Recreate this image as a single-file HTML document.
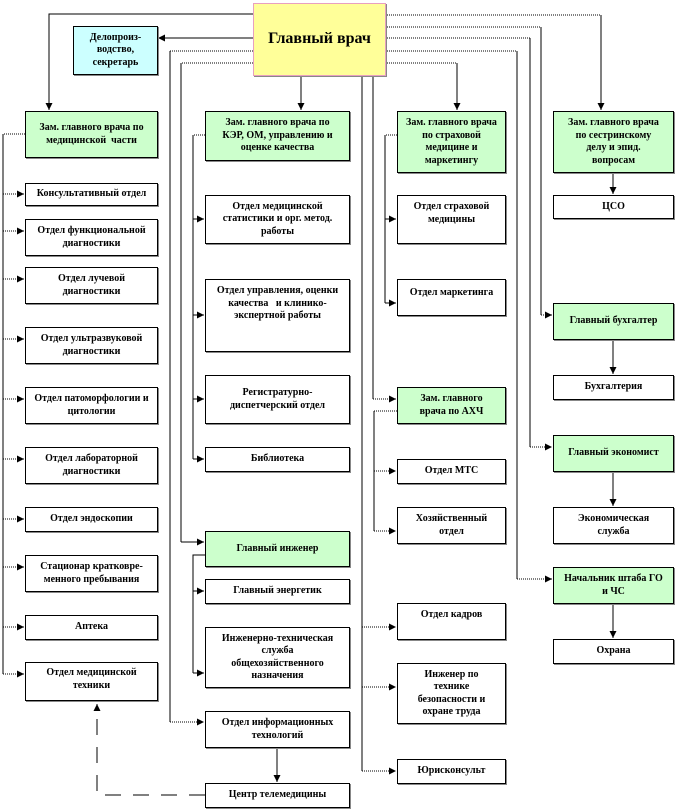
<!DOCTYPE html>
<html><head><meta charset="utf-8"><style>
body{margin:0;width:676px;height:810px;background:#fff;position:relative;overflow:hidden;font-family:"Liberation Serif",serif;}
.b{position:absolute;box-sizing:border-box;border:1px solid #000;background:#fff;display:flex;align-items:center;justify-content:center;text-align:center;font-weight:bold;font-size:10px;line-height:12.5px;color:#000;box-shadow:1px 1px 0 #888;padding:0 8px;font-family:"Liberation Serif",serif;}
.g{background:#ccffcc;}
svg{position:absolute;left:0;top:0;}
</style></head><body>
<svg width="676" height="810">
<defs><marker id="a" markerWidth="8" markerHeight="8" refX="7" refY="4" orient="auto" markerUnits="userSpaceOnUse"><path d="M0,0.5 L7,4 L0,7.5 Z" fill="#000"/></marker></defs>
<g stroke="#000" stroke-width="1" fill="none">
<polyline points="253,14 49,14 49,110" marker-end="url(#a)"/>
<line x1="253" y1="38" x2="158" y2="38" marker-end="url(#a)"/>
<polyline points="253,51 170,51" stroke-dasharray="1,1"/>
<polyline points="253,63 181,63" stroke-dasharray="1,1"/>
<line x1="170" y1="51" x2="170" y2="722"/>
<line x1="181" y1="63" x2="181" y2="542"/>
<line x1="181" y1="542" x2="204" y2="542" marker-end="url(#a)"/>
<line x1="170" y1="722" x2="204" y2="722" stroke-dasharray="1,1" marker-end="url(#a)"/>
<line x1="301" y1="75" x2="301" y2="110" marker-end="url(#a)"/>
<polyline points="385,15 601,15" stroke-dasharray="1,1"/><line x1="601" y1="15" x2="601" y2="110" marker-end="url(#a)"/>
<polyline points="385,27 541,27" stroke-dasharray="1,1"/><line x1="541" y1="27" x2="541" y2="315"/>
<polyline points="385,38 530,38" stroke-dasharray="1,1"/><line x1="530" y1="38" x2="530" y2="447"/>
<polyline points="385,51 517,51" stroke-dasharray="1,1"/><line x1="517" y1="51" x2="517" y2="579"/>
<polyline points="385,63 457,63" stroke-dasharray="1,1"/><line x1="457" y1="63" x2="457" y2="110" marker-end="url(#a)"/>
<line x1="541" y1="315" x2="552" y2="315" stroke-dasharray="1,1" marker-end="url(#a)"/>
<line x1="530" y1="447" x2="552" y2="447" stroke-dasharray="1,1" marker-end="url(#a)"/>
<line x1="517" y1="579" x2="552" y2="579" stroke-dasharray="1,1" marker-end="url(#a)"/>
<line x1="613" y1="172" x2="613" y2="194" marker-end="url(#a)"/>
<line x1="613" y1="339" x2="613" y2="374" marker-end="url(#a)"/>
<line x1="613" y1="471" x2="613" y2="506" marker-end="url(#a)"/>
<line x1="613" y1="603" x2="613" y2="638" marker-end="url(#a)"/>
<line x1="362" y1="75" x2="362" y2="771"/>
<line x1="373" y1="75" x2="373" y2="399"/>
<line x1="373" y1="399" x2="396" y2="399" stroke-dasharray="1,1" marker-end="url(#a)"/>
<line x1="362" y1="627" x2="396" y2="627" stroke-dasharray="1,1" marker-end="url(#a)"/>
<line x1="362" y1="687" x2="396" y2="687" stroke-dasharray="1,1" marker-end="url(#a)"/>
<line x1="362" y1="771" x2="396" y2="771" stroke-dasharray="1,1" marker-end="url(#a)"/>
<line x1="397" y1="411" x2="374" y2="411" stroke-dasharray="1,1"/>
<line x1="374" y1="411" x2="374" y2="531"/>
<line x1="374" y1="471" x2="396" y2="471" stroke-dasharray="1,1" marker-end="url(#a)"/>
<line x1="374" y1="531" x2="396" y2="531" stroke-dasharray="1,1" marker-end="url(#a)"/>
<line x1="397" y1="135" x2="385" y2="135" stroke-dasharray="1,1"/>
<line x1="385" y1="135" x2="385" y2="303"/>
<line x1="385" y1="219" x2="396" y2="219" marker-end="url(#a)"/>
<line x1="385" y1="303" x2="396" y2="303" marker-end="url(#a)"/>
<line x1="205" y1="135" x2="193" y2="135" stroke-dasharray="1,1"/>
<line x1="193" y1="135" x2="193" y2="459"/>
<line x1="193" y1="219" x2="204" y2="219" marker-end="url(#a)"/>
<line x1="193" y1="315" x2="204" y2="315" marker-end="url(#a)"/>
<line x1="193" y1="399" x2="204" y2="399" marker-end="url(#a)"/>
<line x1="193" y1="459" x2="204" y2="459" marker-end="url(#a)"/>
<polyline points="205,555 193,555 193,673"/>
<line x1="193" y1="591" x2="204" y2="591" marker-end="url(#a)"/>
<line x1="193" y1="673" x2="204" y2="673" marker-end="url(#a)"/>
<line x1="277" y1="747" x2="277" y2="782" marker-end="url(#a)"/>
<polyline points="205,795 97,795 97,704" stroke-dasharray="16,12" marker-end="url(#a)"/>
<line x1="25" y1="134" x2="3" y2="134" stroke-dasharray="1,1"/>
<line x1="3" y1="134" x2="3" y2="674"/>
<g stroke-dasharray="1,1">
<line x1="3" y1="194" x2="24" y2="194" marker-end="url(#a)"/>
<line x1="3" y1="231" x2="24" y2="231" marker-end="url(#a)"/>
<line x1="3" y1="279" x2="24" y2="279" marker-end="url(#a)"/>
<line x1="3" y1="339" x2="24" y2="339" marker-end="url(#a)"/>
<line x1="3" y1="399" x2="24" y2="399" marker-end="url(#a)"/>
<line x1="3" y1="459" x2="24" y2="459" marker-end="url(#a)"/>
<line x1="3" y1="519" x2="24" y2="519" marker-end="url(#a)"/>
<line x1="3" y1="567" x2="24" y2="567" marker-end="url(#a)"/>
<line x1="3" y1="627" x2="24" y2="627" marker-end="url(#a)"/>
<line x1="3" y1="674" x2="24" y2="674" marker-end="url(#a)"/>
</g>
</g>
</svg>
<div class="b" style="left:253px;top:3px;width:133px;height:73px;background:#ffff99;border-color:#e8a0c0;font-size:16px;">Главный врач</div>
<div class="b" style="left:73px;top:26px;width:85px;height:49px;background:#ccffff;">Делопроиз-водство, секретарь</div>

<div class="b g" style="left:25px;top:111px;width:133px;height:47px;">Зам. главного врача по медицинской&nbsp; части</div>
<div class="b" style="left:25px;top:183px;width:133px;height:23px;padding:0 2px;">Консультативный отдел</div>
<div class="b" style="left:25px;top:219px;width:133px;height:37px;">Отдел функциональной диагностики</div>
<div class="b" style="left:25px;top:267px;width:133px;height:37px;padding:0 22px;">Отдел лучевой диагностики</div>
<div class="b" style="left:25px;top:327px;width:133px;height:37px;">Отдел ультразвуковой диагностики</div>
<div class="b" style="left:25px;top:387px;width:133px;height:37px;">Отдел патоморфологии и цитологии</div>
<div class="b" style="left:25px;top:447px;width:133px;height:37px;">Отдел лабораторной диагностики</div>
<div class="b" style="left:25px;top:507px;width:133px;height:25px;">Отдел эндоскопии</div>
<div class="b" style="left:25px;top:555px;width:133px;height:37px;">Стационар кратковре-менного пребывания</div>
<div class="b" style="left:25px;top:615px;width:133px;height:25px;">Аптека</div>
<div class="b" style="left:25px;top:662px;width:133px;height:39px;align-items:flex-start;padding-top:4px;">Отдел медицинской техники</div>

<div class="b g" style="left:205px;top:111px;width:145px;height:50px;padding:0 12px;">Зам. главного врача по КЭР, ОМ, управлению и оценке качества</div>
<div class="b" style="left:205px;top:195px;width:145px;height:49px;">Отдел медицинской статистики и орг. метод. работы</div>
<div class="b" style="left:205px;top:279px;width:145px;height:73px;align-items:flex-start;padding-top:5px;">Отдел управления, оценки качества&nbsp;&nbsp; и клинико-экспертной работы</div>
<div class="b" style="left:205px;top:375px;width:145px;height:49px;padding:0 20px;">Регистратурно-диспетчерский отдел</div>
<div class="b" style="left:205px;top:447px;width:145px;height:25px;">Библиотека</div>
<div class="b g" style="left:205px;top:531px;width:145px;height:36px;">Главный инженер</div>
<div class="b" style="left:205px;top:579px;width:145px;height:25px;">Главный энергетик</div>
<div class="b" style="left:205px;top:627px;width:145px;height:61px;">Инженерно-техническая служба общехозяйственного назначения</div>
<div class="b" style="left:205px;top:711px;width:145px;height:37px;">Отдел информационных технологий</div>
<div class="b" style="left:205px;top:783px;width:145px;height:25px;">Центр телемедицины</div>

<div class="b g" style="left:397px;top:111px;width:109px;height:62px;padding:0 5px;">Зам. главного врача по страховой медицине и маркетингу</div>
<div class="b" style="left:397px;top:195px;width:109px;height:49px;align-items:flex-start;padding-top:5px;">Отдел страховой медицины</div>
<div class="b" style="left:397px;top:279px;width:109px;height:37px;align-items:flex-start;padding-top:7px;">Отдел маркетинга</div>
<div class="b g" style="left:397px;top:387px;width:109px;height:37px;padding:0 14px;">Зам. главного врача по АХЧ</div>
<div class="b" style="left:397px;top:459px;width:109px;height:25px;">Отдел МТС</div>
<div class="b" style="left:397px;top:507px;width:109px;height:37px;padding:0 16px;">Хозяйственный отдел</div>
<div class="b" style="left:397px;top:603px;width:109px;height:37px;align-items:flex-start;padding-top:5px;">Отдел кадров</div>
<div class="b" style="left:397px;top:663px;width:109px;height:61px;padding:0 14px;">Инженер по технике безопасности и охране труда</div>
<div class="b" style="left:397px;top:759px;width:109px;height:25px;">Юрисконсульт</div>

<div class="b g" style="left:553px;top:111px;width:121px;height:62px;padding:0 14px;">Зам. главного врача по сестринскому делу и эпид. вопросам</div>
<div class="b" style="left:553px;top:195px;width:121px;height:24px;">ЦСО</div>
<div class="b g" style="left:553px;top:303px;width:121px;height:37px;">Главный бухгалтер</div>
<div class="b" style="left:553px;top:375px;width:121px;height:25px;">Бухгалтерия</div>
<div class="b g" style="left:553px;top:435px;width:121px;height:37px;">Главный экономист</div>
<div class="b" style="left:553px;top:507px;width:121px;height:37px;padding:0 20px;">Экономическая служба</div>
<div class="b g" style="left:553px;top:567px;width:121px;height:37px;">Начальник штаба ГО и ЧС</div>
<div class="b" style="left:553px;top:639px;width:121px;height:25px;">Охрана</div>
</body></html>
